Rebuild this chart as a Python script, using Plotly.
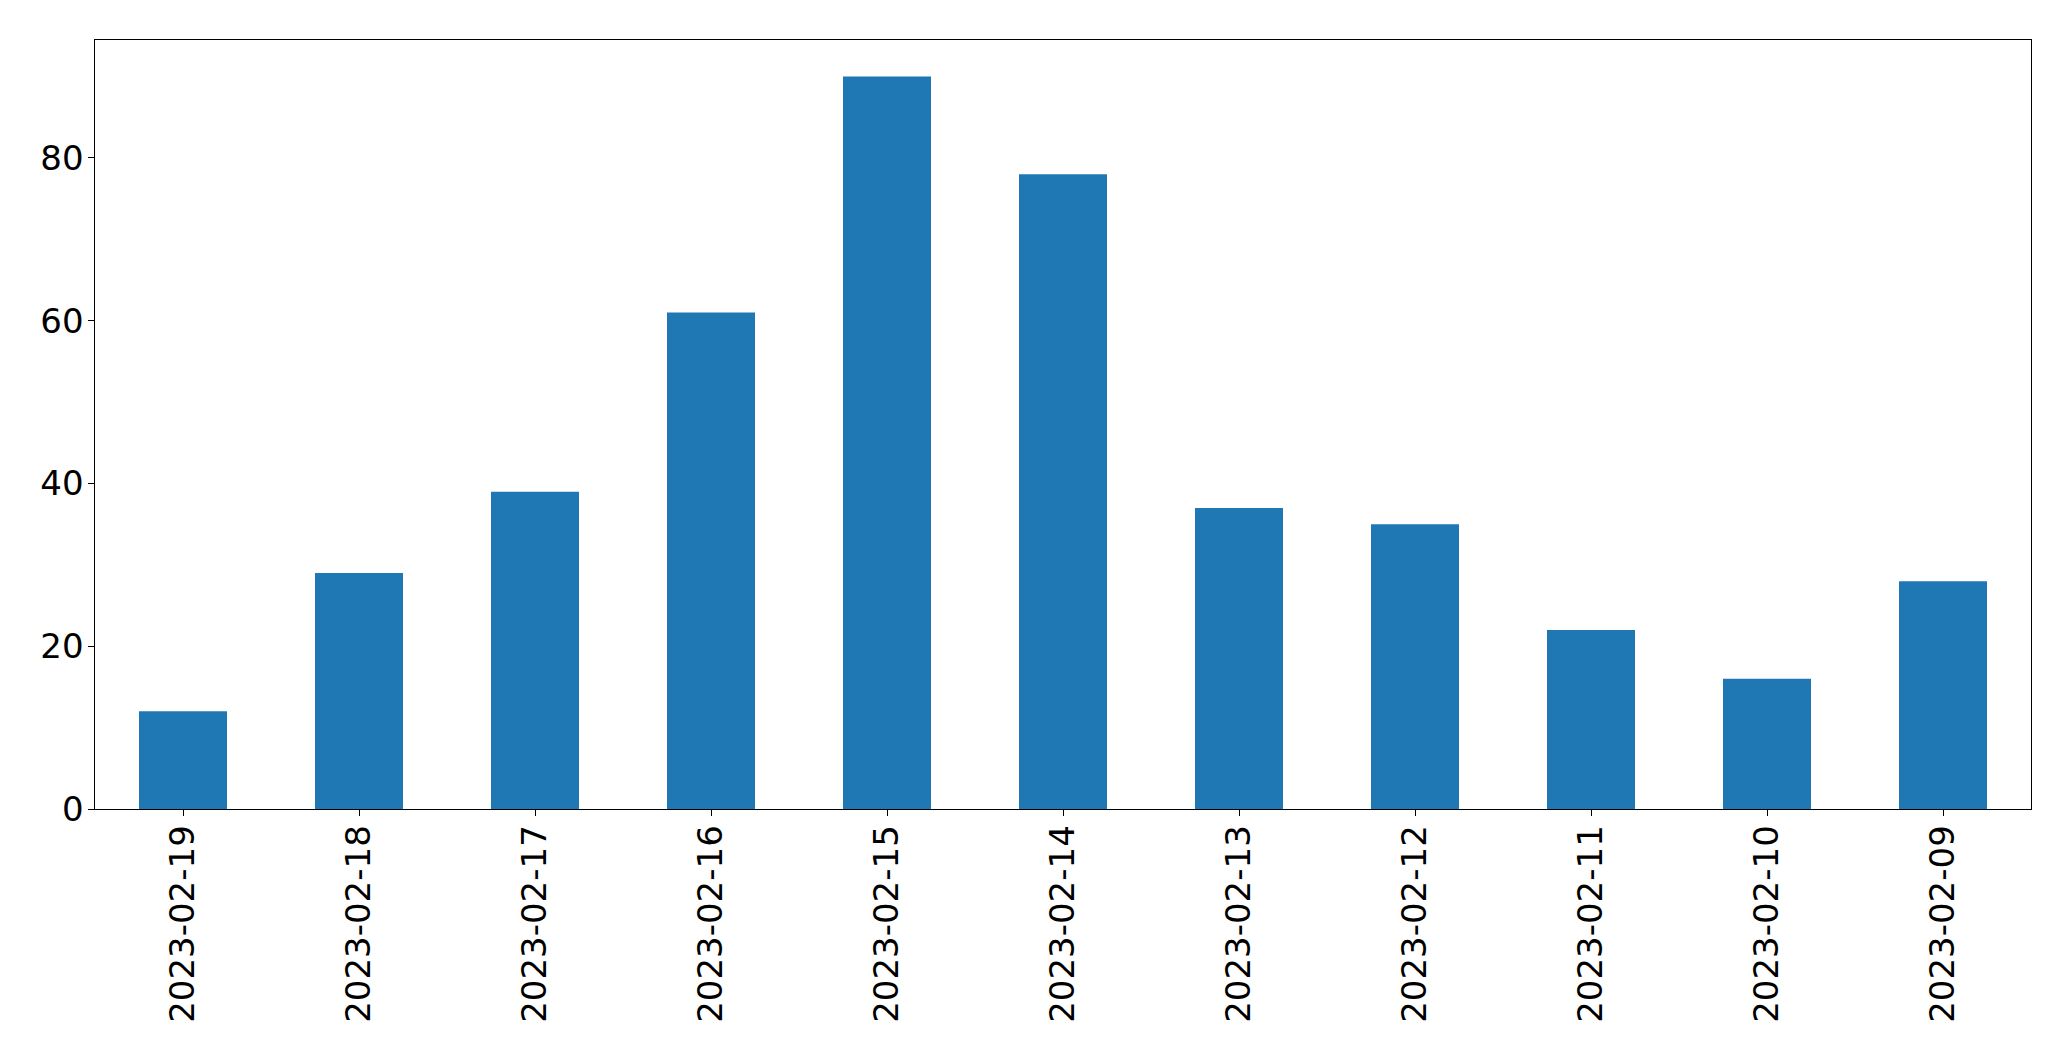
import plotly.graph_objects as go

dates = ["2023-02-19", "2023-02-18", "2023-02-17", "2023-02-16", "2023-02-15",
         "2023-02-14", "2023-02-13", "2023-02-12", "2023-02-11", "2023-02-10",
         "2023-02-09"]
counts = [12, 29, 39, 61, 90, 78, 37, 35, 22, 16, 28]
y_ticks = [0, 20, 40, 60, 80]

fig = go.Figure(go.Bar(x=dates, y=counts, marker=dict(color="#1f77b4", line=dict(width=0))))

font = dict(family="DejaVu Sans", size=34, color="black")
fig.update_layout(
    width=2063, height=1053,
    margin=dict(l=86.5, r=39.5, t=31.5, b=251.7, pad=0),
    paper_bgcolor="white", plot_bgcolor="white",
    bargap=0.5, showlegend=False, font=font,
)
fig.update_xaxes(
    type="category", range=[-0.5, 10.5], tickangle=-90,
    showline=True, linecolor="black", linewidth=1.3, mirror=True,
    ticks="outside", ticklen=5.5, tickwidth=1.3, tickcolor="black",
    showgrid=False, zeroline=False, tickfont=font, ticklabelstandoff=-4,
)
fig.update_yaxes(
    range=[0, 94.5], tickvals=y_ticks,
    showline=True, linecolor="black", linewidth=1.3, mirror=True,
    ticks="outside", ticklen=5.5, tickwidth=1.3, tickcolor="black",
    showgrid=False, zeroline=False, tickfont=font, ticklabelstandoff=-2,
)
fig.write_html("out.html")
